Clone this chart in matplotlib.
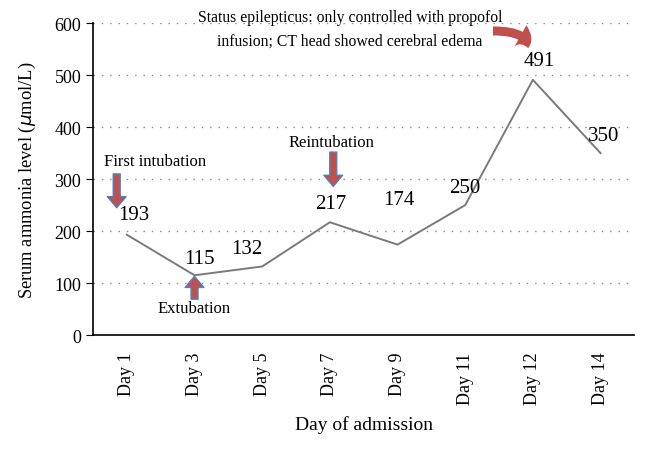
import matplotlib.pyplot as plt
from matplotlib.patches import FancyArrowPatch

days = ['Day 1', 'Day 3', 'Day 5', 'Day 7', 'Day 9', 'Day 11', 'Day 12', 'Day 14']
ammonia = [193, 115, 132, 217, 174, 250, 491, 350]
label_offsets = [(7, 20), (5, 17), (-15, 18), (1, 19), (1, 45), (0, 18), (6, 19), (3, 18)]

plt.rcParams['font.family'] = ['Liberation Serif', 'DejaVu Serif']

fig = plt.figure(figsize=(6.46, 4.56), dpi=100)
ax = fig.add_axes([0.144, 0.263, 0.838, 0.684])

x = list(range(len(days)))
ax.plot(x, ammonia, color='#7a7a7a', linewidth=1.4)

for xi, v, (dx, dy) in zip(x, ammonia, label_offsets):
    ax.annotate(str(v), (xi, v), xytext=(dx, dy), textcoords='offset pixels',
                ha='center', va='center', fontsize=15)

ax.set_xlim(-0.5, len(days) - 0.5)
ax.set_ylim(0, 600)
ax.set_yticks(range(0, 601, 100))
ax.set_xticks(x)
ax.set_xticklabels(days, rotation=90, fontsize=13)
ax.tick_params(axis='y', labelsize=13, length=5, direction='out')
ax.tick_params(axis='x', length=0, pad=12)
ax.yaxis.grid(True, linestyle=(0, (1, 5)), color='#888888', linewidth=1)
ax.set_axisbelow(True)
for s in ['top', 'right']:
    ax.spines[s].set_visible(False)
ax.spines['left'].set_linewidth(1.2)
ax.spines['bottom'].set_linewidth(1.2)

ax.set_ylabel('Serum ammonia level ($\\mu$mol/L)', fontsize=13.3, labelpad=12)
ax.set_xlabel('Day of admission', fontsize=14, labelpad=8)

red = '#c0504d'
blue = '#4f81bd'


def fat_arrow(x0, y0, x1, y1, ec=blue, lw=1, cs='arc3', scale=10):
    style = 'simple,head_width=1.35,head_length=0.8,tail_width=0.5'
    p = FancyArrowPatch((x0, y0), (x1, y1), arrowstyle=style, mutation_scale=scale,
                        fc=red, ec=ec, lw=lw, connectionstyle=cs, shrinkA=0, shrinkB=0)
    ax.add_patch(p)


# first intubation
ax.text(0.42, 335, 'First intubation', ha='center', va='center', fontsize=12)
fat_arrow(-0.15, 310, -0.15, 245)
# extubation
ax.text(1, 52, 'Extubation', ha='center', va='center', fontsize=12)
fat_arrow(1.0, 69, 1.0, 113)
# reintubation
ax.text(3.02, 371, 'Reintubation', ha='center', va='center', fontsize=12)
fat_arrow(3.05, 352, 3.05, 286)
# status epilepticus
ax.text(3.3, 589, 'Status epilepticus: only controlled with propofol\ninfusion; CT head showed cerebral edema',
        ha='center', va='center', fontsize=11.3, linespacing=1.6)
fat_arrow(5.41, 585, 5.93, 552, ec=red, lw=0, cs='angle3,angleA=0,angleB=-90', scale=13)

fig.savefig('out.png', dpi=100)
